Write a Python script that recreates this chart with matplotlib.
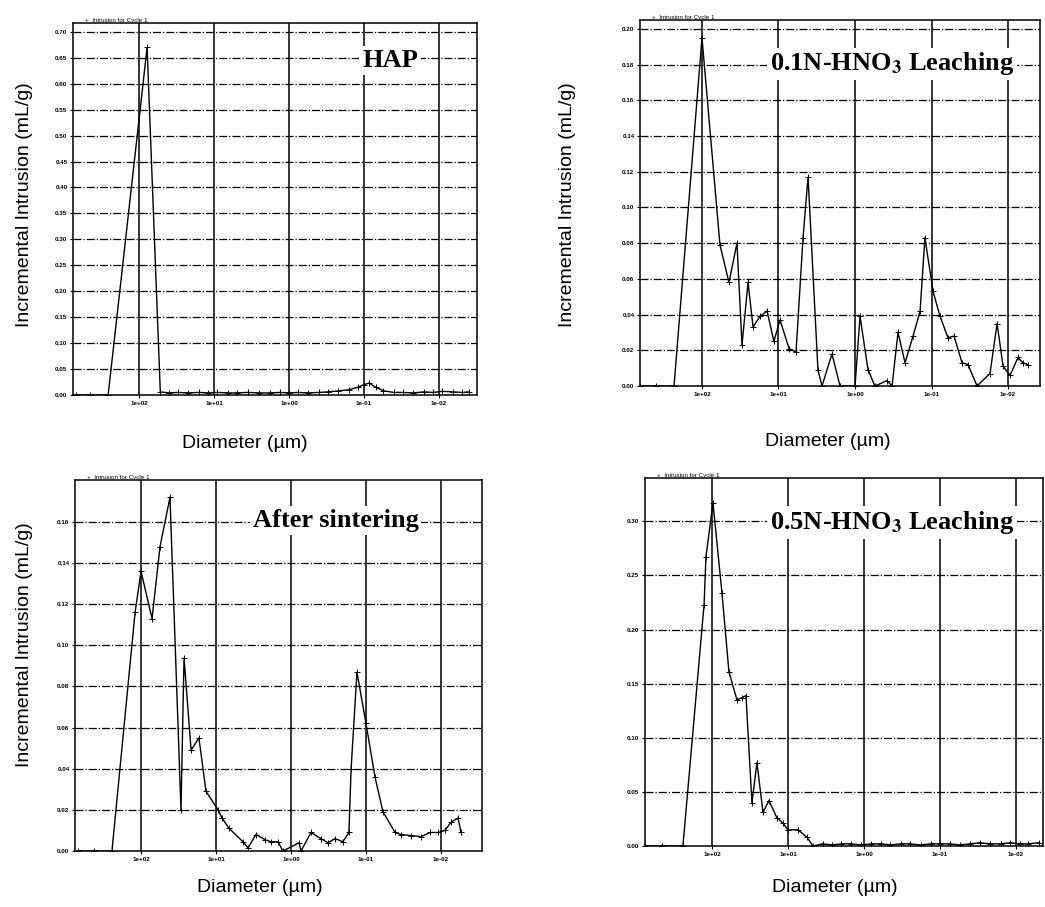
import numpy as np
import matplotlib
matplotlib.use('Agg')
import matplotlib.pyplot as plt

# Pore size distribution data (diameter in um, incremental intrusion in mL/g)
hap_diam = [700, 450, 258, 78, 52, 40, 30, 22, 16, 12, 9, 6.5, 5, 3.5, 2.5,
            1.8, 1.3, 1.0, 0.75, 0.55, 0.4, 0.3, 0.22, 0.16, 0.12, 0.1, 0.085,
            0.07, 0.055, 0.04, 0.03, 0.022, 0.016, 0.012, 0.009, 0.0065,
            0.005, 0.004]
hap_vals = [0, 0, 0, 0.67, 0.006, 0.004, 0.005, 0.004, 0.005, 0.004, 0.005,
            0.004, 0.004, 0.005, 0.004, 0.004, 0.005, 0.004, 0.005, 0.004,
            0.005, 0.006, 0.008, 0.01, 0.015, 0.02, 0.023, 0.015, 0.008,
            0.005, 0.005, 0.004, 0.006, 0.005, 0.007, 0.006, 0.005, 0.006]

n01_diam = [640, 400, 232, 100, 58.2, 44.4, 34.9, 30.0, 25.0, 21.5, 17.5,
            14.1, 11.5, 9.55, 7.29, 5.90, 4.78, 4.11, 3.05, 2.70, 2.0, 1.57,
            1.0, 0.86, 0.676, 0.548, 0.382, 0.328, 0.274, 0.222, 0.174,
            0.141, 0.122, 0.0955, 0.0774, 0.0608, 0.0508, 0.0399, 0.0333,
            0.0254, 0.0172, 0.0139, 0.0116, 0.0094, 0.0074, 0.0064, 0.0055]
n01_vals = [0, 0, 0, 0.195, 0.079, 0.058, 0.080, 0.023, 0.058, 0.033, 0.039,
            0.042, 0.025, 0.037, 0.021, 0.019, 0.083, 0.117, 0.009, 0.0,
            0.018, 0.0, 0.0, 0.039, 0.009, 0.0, 0.003, 0.0, 0.030, 0.013,
            0.028, 0.042, 0.083, 0.053, 0.039, 0.027, 0.028, 0.013, 0.012,
            0.0, 0.007, 0.035, 0.011, 0.006, 0.016, 0.013, 0.012]

sint_diam = [700, 420, 244, 120, 100, 71.3, 55.8, 41.1, 29.3, 26.7, 21.5,
             16.9, 13.6, 9.4, 8.3, 6.7, 4.37, 3.74, 2.93, 2.22, 1.85, 1.49,
             1.28, 0.782, 0.736, 0.541, 0.398, 0.321, 0.259, 0.203, 0.169,
             0.158, 0.132, 0.1, 0.0759, 0.0593, 0.041, 0.0341, 0.0251,
             0.0185, 0.014, 0.011, 0.00885, 0.00736, 0.00593, 0.0054]
sint_vals = [0, 0, 0, 0.116, 0.136, 0.113, 0.148, 0.172, 0.020, 0.094,
             0.049, 0.055, 0.029, 0.020, 0.016, 0.011, 0.0045, 0.0015, 0.008,
             0.0055, 0.0045, 0.0045, 0.0, 0.004, 0.0, 0.009, 0.006, 0.004,
             0.006, 0.0045, 0.009, 0.040, 0.087, 0.062, 0.036, 0.019, 0.009,
             0.008, 0.0075, 0.007, 0.009, 0.009, 0.010, 0.014, 0.016, 0.009]

n05_diam = [760, 450, 241, 127, 120, 97, 73.9, 59.8, 46.9, 40.3, 35.7, 29.8,
            25.6, 21.3, 17.8, 14.0, 11.6, 10.0, 7.38, 5.62, 4.69, 3.5, 2.6,
            2.0, 1.5, 1.1, 0.8, 0.6, 0.45, 0.33, 0.25, 0.18, 0.13, 0.1, 0.075,
            0.055, 0.04, 0.03, 0.022, 0.016, 0.012, 0.009, 0.007, 0.005]
n05_vals = [0, 0, 0, 0.223, 0.267, 0.317, 0.234, 0.161, 0.135, 0.137, 0.139,
            0.040, 0.077, 0.031, 0.042, 0.026, 0.021, 0.015, 0.015, 0.008,
            0.0, 0.002, 0.001, 0.002, 0.002, 0.001, 0.002, 0.002, 0.001,
            0.002, 0.002, 0.001, 0.002, 0.002, 0.002, 0.001, 0.002, 0.003,
            0.002, 0.002, 0.003, 0.002, 0.002, 0.003]

x_ticks = [1e2, 1e1, 1e0, 1e-1, 1e-2]
x_ticklabels = ['1e+02', '1e+01', '1e+00', '1e-01', '1e-02']

panel_titles = ['HAP', r'0.1N-HNO$_\mathbf{3}$ Leaching', 'After sintering',
                r'0.5N-HNO$_\mathbf{3}$ Leaching']


def draw_panel(ax, diam, vals, xlim, ylim, yticks, title, title_xy):
    ax.plot(diam, vals, color='black', lw=1.0, marker='+', ms=4, mew=0.7,
            zorder=3)
    ax.set_xscale('log')
    ax.set_xlim(*xlim)
    ax.set_ylim(*ylim)
    ax.set_xticks(x_ticks)
    ax.set_xticklabels(x_ticklabels)
    ax.minorticks_off()
    ax.set_yticks(yticks)
    ax.set_yticklabels(['%.2f' % t for t in yticks])
    ax.tick_params(labelsize=4.5, length=2, width=0.8, pad=2)
    for lbl in ax.get_xticklabels() + ax.get_yticklabels():
        lbl.set_fontweight('bold')

    # grid: solid verticals, dash-dot horizontals
    for t in x_ticks:
        ax.axvline(t, color='black', lw=1.1, zorder=1)
    for t in yticks[1:]:
        ax.axhline(t, color='black', lw=0.9, ls='-.', zorder=1)

    for s in ax.spines.values():
        s.set_linewidth(1.1)

    ax.text(0.03, 1.0, '+  Intrusion for Cycle 1', transform=ax.transAxes,
            fontsize=4.5, va='bottom', ha='left')
    ax.text(title_xy[0], title_xy[1], title, transform=ax.transAxes,
            fontsize=19, fontweight='bold', family='Liberation Serif',
            ha='center', va='center', zorder=4,
            bbox=dict(facecolor='white', edgecolor='none', pad=2))


def main():
    plt.rcParams['font.family'] = ['Liberation Sans', 'DejaVu Sans']
    plt.rcParams['mathtext.fontset'] = 'stix'
    fig = plt.figure(figsize=(10.45, 9.07), dpi=100)

    W, H = 1045.0, 907.0

    def box(l, r, t, b):
        return [l / W, 1 - b / H, (r - l) / W, (b - t) / H]

    ax1 = fig.add_axes(box(73, 477, 23, 395))
    ax2 = fig.add_axes(box(640, 1040, 20, 386))
    ax3 = fig.add_axes(box(75, 482, 480, 851))
    ax4 = fig.add_axes(box(645, 1043, 478, 846))

    draw_panel(ax1, hap_diam, hap_vals, (759, 0.00311), (0, 0.717),
               np.arange(0, 0.701, 0.05), panel_titles[0], (0.785, 0.90))
    draw_panel(ax2, n01_diam, n01_vals, (646, 0.00382), (0, 0.205),
               np.arange(0, 0.201, 0.02), panel_titles[1], (0.63, 0.88))
    draw_panel(ax3, sint_diam, sint_vals, (759, 0.00284), (0, 0.1804),
               np.arange(0, 0.161, 0.02), panel_titles[2], (0.64, 0.89))
    draw_panel(ax4, n05_diam, n05_vals, (760, 0.00442), (0, 0.34),
               np.arange(0, 0.301, 0.05), panel_titles[3], (0.62, 0.88))

    # axis labels placed by hand like the scanned figure
    ylab = 'Incremental Intrusion (mL/g)'
    fig.text(25 / W, 1 - 205 / H, ylab, rotation=90, fontsize=14,
             ha='center', va='center')
    fig.text(567 / W, 1 - 205 / H, ylab, rotation=90, fontsize=14,
             ha='center', va='center')
    fig.text(25 / W, 1 - 645 / H, ylab, rotation=90, fontsize=14,
             ha='center', va='center')

    xlab = 'Diameter (\u00b5m)'
    fig.text(245 / W, 1 - 443 / H, xlab, fontsize=14, ha='center', va='center')
    fig.text(828 / W, 1 - 441 / H, xlab, fontsize=14, ha='center', va='center')
    fig.text(260 / W, 1 - 888 / H, xlab, fontsize=14, ha='center', va='center')
    fig.text(835 / W, 1 - 887 / H, xlab, fontsize=14, ha='center', va='center')

    fig.savefig('out.png', dpi=100)


if __name__ == '__main__':
    main()
